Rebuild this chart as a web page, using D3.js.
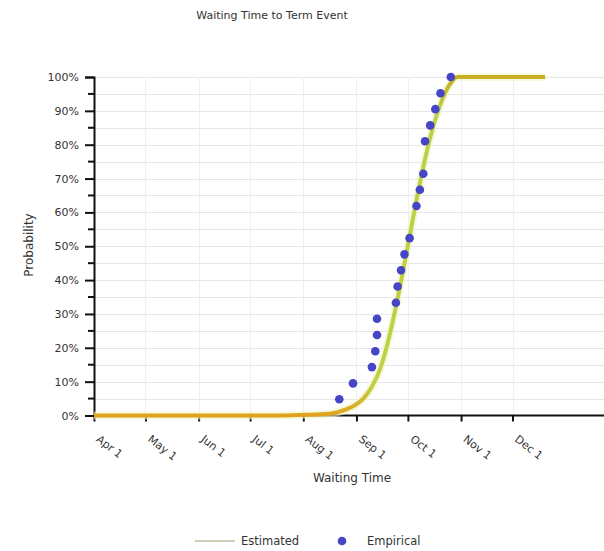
<!DOCTYPE html>
<html>
<head>
<meta charset="utf-8">
<script src="https://cdn.jsdelivr.net/npm/d3@7"></script>
<style>
  html, body { margin: 0; padding: 0; background: #fff; }
  svg { display: block; font-family: "DejaVu Sans", Tahoma, Arial, sans-serif; }
</style>
</head>
<body>
<svg id="chart" width="604" height="551"></svg>
<script>
// Estimated cumulative probability of the waiting time (fitted curve)
const estimatedDates = ["2010-04-01", "2010-07-15", "2010-08-01", "2010-08-16", "2010-08-21", "2010-08-26",
  "2010-08-31", "2010-09-05", "2010-09-10", "2010-09-15", "2010-09-20", "2010-09-25", "2010-09-30",
  "2010-10-05", "2010-10-10", "2010-10-15", "2010-10-20", "2010-10-25", "2010-10-30", "2010-12-20"];
const estimatedProb = [0, 0, 0.002, 0.005, 0.01, 0.018,
  0.03, 0.05, 0.085, 0.14, 0.23, 0.345, 0.475,
  0.61, 0.735, 0.84, 0.92, 0.975, 1.0, 1.0];

// Empirical cumulative probability of observed events
const empiricalDates = ["2010-08-22", "2010-08-30", "2010-09-10", "2010-09-12", "2010-09-13", "2010-09-13",
  "2010-09-24", "2010-09-25", "2010-09-27", "2010-09-29", "2010-10-02", "2010-10-06", "2010-10-08",
  "2010-10-10", "2010-10-11", "2010-10-14", "2010-10-17", "2010-10-20", "2010-10-26"];
const empiricalProb = [0.048, 0.095, 0.143, 0.19, 0.238, 0.286,
  0.333, 0.381, 0.429, 0.476, 0.524, 0.619, 0.667,
  0.714, 0.81, 0.857, 0.905, 0.952, 1.0];

const monthTicks = ["2010-04-01", "2010-05-01", "2010-06-01", "2010-07-01", "2010-08-01",
  "2010-09-01", "2010-10-01", "2010-11-01", "2010-12-01"];
const probTicks = [0, 0.1, 0.2, 0.3, 0.4, 0.5, 0.6, 0.7, 0.8, 0.9, 1.0];
const probMinorTicks = [0.05, 0.15, 0.25, 0.35, 0.45, 0.55, 0.65, 0.75, 0.85, 0.95];

const parse = d3.timeParse("%Y-%m-%d");
const svg = d3.select("#chart");
const font = "'DejaVu Sans', Tahoma, Arial, sans-serif";

const plot = { left: 94, right: 600, top: 77, bottom: 415.5 };

const x = d3.scaleTime()
  .domain([parse("2010-04-01"), parse("2011-01-21")])
  .range([plot.left, plot.right]);
const y = d3.scaleLinear().domain([0, 1]).range([plot.bottom, plot.top]);

const textColor = "#333";

// Title
svg.append("text")
  .attr("x", 272).attr("y", 19)
  .attr("text-anchor", "middle")
  .attr("font-size", 11).attr("fill", textColor)
  .text("Waiting Time to Term Event");

// Grid
const grid = svg.append("g");
grid.selectAll("line.h")
  .data(probTicks.concat(probMinorTicks).filter(d => d > 0))
  .join("line")
  .attr("x1", plot.left).attr("x2", plot.right + 4)
  .attr("y1", d => Math.round(y(d)) + 0.5).attr("y2", d => Math.round(y(d)) + 0.5)
  .attr("stroke", "#e6e6e6").attr("stroke-width", 1);
grid.selectAll("line.v")
  .data(monthTicks.slice(1).map(parse))
  .join("line")
  .attr("x1", d => Math.round(x(d)) + 0.5).attr("x2", d => Math.round(x(d)) + 0.5)
  .attr("y1", plot.top).attr("y2", plot.bottom)
  .attr("stroke", "#efefef").attr("stroke-width", 1);

// Y axis
const yAxis = svg.append("g")
  .attr("transform", `translate(${plot.left},0)`)
  .call(d3.axisLeft(y).tickValues(probTicks).tickFormat(d3.format(".0%")).tickSize(9).tickPadding(6));
yAxis.selectAll(".tick line").attr("stroke", "#111").attr("stroke-width", 2);
yAxis.selectAll(".tick text").attr("font-size", 11).attr("fill", textColor).attr("font-family", font);
yAxis.select(".domain").attr("stroke", "#111").attr("stroke-width", 2);
yAxis.selectAll("line.minor")
  .data(probMinorTicks)
  .join("line")
  .attr("class", "minor")
  .attr("x1", -6).attr("x2", 0)
  .attr("y1", d => y(d)).attr("y2", d => y(d))
  .attr("stroke", "#111").attr("stroke-width", 2);

svg.append("text")
  .attr("transform", "translate(33,245) rotate(-90)")
  .attr("text-anchor", "middle")
  .attr("font-size", 12).attr("fill", textColor)
  .text("Probability");

// X axis
const xAxis = svg.append("g")
  .attr("transform", `translate(0,${plot.bottom})`)
  .call(d3.axisBottom(x).tickValues(monthTicks.map(parse))
    .tickFormat(d3.timeFormat("%b %-d")).tickSize(6).tickSizeOuter(0));
xAxis.select(".domain").attr("stroke", "#111").attr("stroke-width", 2)
  .attr("d", `M${plot.left},0H604`);
xAxis.selectAll(".tick line").attr("stroke", "#111").attr("stroke-width", 2);
xAxis.selectAll(".tick text")
  .attr("font-size", 11).attr("fill", textColor)
  .attr("font-family", font)
  .attr("text-anchor", "start")
  .attr("y", 0).attr("dy", 0)
  .attr("transform", "translate(1,25) rotate(38)");

svg.append("text")
  .attr("x", 352).attr("y", 482)
  .attr("text-anchor", "middle")
  .attr("font-size", 12).attr("fill", textColor)
  .text("Waiting Time");

// Curve colour shifts from orange at the baseline to yellow-green and gold at the top
const defs = svg.append("defs");
const grad = defs.append("linearGradient")
  .attr("id", "estGrad").attr("gradientUnits", "userSpaceOnUse")
  .attr("x1", 0).attr("x2", 0).attr("y1", y(0)).attr("y2", y(1));
[[0, "#e2a11c"], [0.03, "#d9b02c"], [0.09, "#c0d040"], [0.9, "#bcd048"], [0.97, "#c9b82a"], [1, "#c6ae22"]]
  .forEach(([o, c]) => grad.append("stop").attr("offset", o).attr("stop-color", c));

const estData = estimatedDates.map((d, i) => ({ date: parse(d), p: estimatedProb[i] }));
const line = d3.line().x(d => x(d.date)).y(d => y(d.p)).curve(d3.curveMonotoneX);

svg.append("path")
  .datum(estData)
  .attr("d", line)
  .attr("fill", "none")
  .attr("stroke", "#eef7c8")
  .attr("stroke-width", 8)
  .attr("stroke-opacity", 0.6);
svg.append("path")
  .datum(estData)
  .attr("d", line)
  .attr("fill", "none")
  .attr("stroke", "url(#estGrad)")
  .attr("stroke-width", 4)
  .attr("stroke-linejoin", "round");

// Empirical points
const empData = empiricalDates.map((d, i) => ({ date: parse(d), p: empiricalProb[i] }));
svg.append("g").selectAll("circle")
  .data(empData)
  .join("circle")
  .attr("cx", d => x(d.date)).attr("cy", d => y(d.p))
  .attr("r", 4.3)
  .attr("fill", "#4545c6");

// Legend
const legend = svg.append("g").attr("transform", "translate(0,541)");
legend.append("line")
  .attr("x1", 195).attr("x2", 235).attr("y1", 0).attr("y2", 0)
  .attr("stroke", "#b8c0a0").attr("stroke-width", 1.5);
legend.append("text")
  .attr("x", 241).attr("y", 4)
  .attr("font-size", 11.5).attr("fill", textColor)
  .text("Estimated");
legend.append("circle")
  .attr("cx", 342).attr("cy", 0).attr("r", 4.3).attr("fill", "#4545c6");
legend.append("text")
  .attr("x", 367).attr("y", 4)
  .attr("font-size", 11.5).attr("fill", textColor)
  .text("Empirical");
</script>
</body>
</html>
